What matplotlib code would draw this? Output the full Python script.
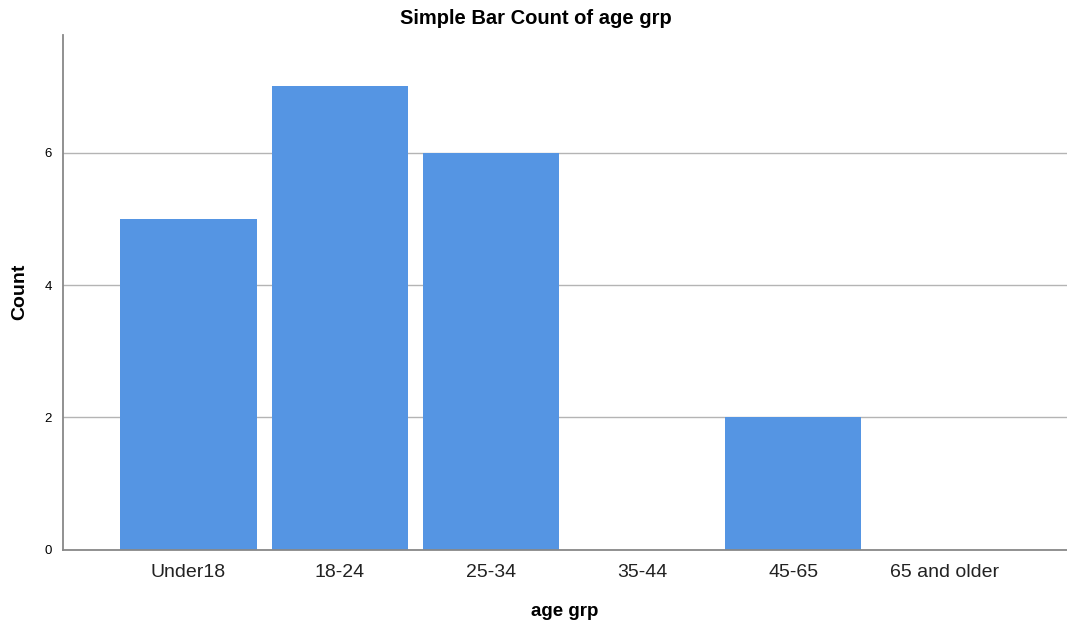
import matplotlib
matplotlib.use("Agg")
import matplotlib.pyplot as plt
import numpy as np

plt.rcParams['font.family'] = ['Liberation Sans', 'DejaVu Sans']

# data
categories = ["Under18", "18-24", "25-34", "35-44", "45-65", "65 and older"]
counts = [5, 7, 6, 0, 2, 0]
yticks = [0, 2, 4, 6]

fig = plt.figure(figsize=(10.67, 6.32), dpi=100)
ax = fig.add_axes([0.059, 0.13, 0.941, 0.815])

x = np.arange(len(categories))
ax.bar(x, counts, width=0.9, color='#5595e3', zorder=2)

ax.set_xlim(-0.83, 5.81)
ax.set_ylim(0, 7.78)
ax.set_yticks(yticks)
ax.set_xticks(x)
ax.set_xticklabels(categories, fontsize=14, color='#222222')
ax.tick_params(axis='y', labelsize=9.5, length=0, pad=8)
ax.tick_params(axis='x', length=0, pad=10)

ax.grid(axis='y', color='#b4b4b4', linewidth=1, zorder=1)
for s in ['top', 'right']:
    ax.spines[s].set_visible(False)
ax.spines['left'].set_color('#888888')
ax.spines['bottom'].set_color('#888888')
ax.spines['left'].set_linewidth(1.3)
ax.spines['bottom'].set_linewidth(1.3)

fig.text(0.502, 0.970, "Simple Bar Count of age grp", ha='center', va='center',
         fontsize=14.5, fontweight='bold')
ax.set_xlabel("age grp", fontsize=13.5, fontweight='bold', labelpad=16)
ax.set_ylabel("Count", fontsize=14, fontweight='bold', labelpad=12)

fig.savefig("out.png", dpi=100)
